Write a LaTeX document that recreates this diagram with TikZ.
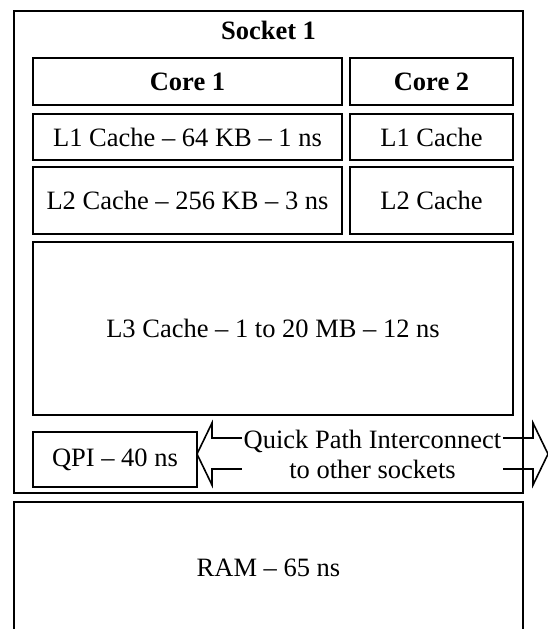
\documentclass[tikz,border=0pt]{standalone}
\usepackage{fontspec}
\setmainfont{Liberation Serif}
\usepackage{tikz}

\begin{document}
\begin{tikzpicture}[x=1pt, y=-1pt, line width=1.6pt, box/.style={rectangle, draw, inner sep=0pt, font=\fontsize{26.5}{30}\selectfont}, core/.style={box, font=\fontsize{26.5}{30}\selectfont\bfseries}, title/.style={font=\fontsize{26.5}{30}\selectfont\bfseries}, link/.style={fill=white, align=center, inner xsep=1.5pt, inner ysep=0pt, font=\fontsize{26.5}{30}\selectfont}]

\useasboundingbox (0,0) rectangle (547,629);

\node[box, minimum width=509pt, minimum height=482pt] (S1) at (268.5,252) {};
\node[title] (T1) at (268.5,30) {Socket 1};

\node[core, minimum width=309pt, minimum height=47pt] (C1) at (187.5,81.5) {Core 1};
\node[core, minimum width=163pt, minimum height=47pt] (C2) at (431.5,81.5) {Core 2};

\node[box, minimum width=309pt, minimum height=46pt] (L11) at (187.5,137) {L1 Cache -- 64 KB -- 1 ns};
\node[box, minimum width=163pt, minimum height=46pt] (L12) at (431.5,137) {L1 Cache};

\node[box, minimum width=309pt, minimum height=67pt] (L21) at (187.5,200.5) {L2 Cache -- 256 KB -- 3 ns};
\node[box, minimum width=163pt, minimum height=67pt] (L22) at (431.5,200.5) {L2 Cache};

\node[box, minimum width=480pt, minimum height=173pt] (L3) at (273,328.5) {L3 Cache -- 1 to 20 MB -- 12 ns};

\node[box, minimum width=164pt, minimum height=55pt] (Q1) at (115,459.5) {QPI -- 40 ns};

\draw (212,438) -- (212,423) -- (197,454) -- (212,485) -- (212,469) -- (533,469) -- (533,485) -- (548,454) -- (533,423) -- (533,438) -- cycle;
\node[link] (QL) at (372.5,454) {Quick Path Interconnect\\to other sockets};

\node[box, minimum width=509pt, minimum height=132pt] (R1) at (268.5,568) {RAM -- 65 ns};
\end{tikzpicture}
\end{document}
